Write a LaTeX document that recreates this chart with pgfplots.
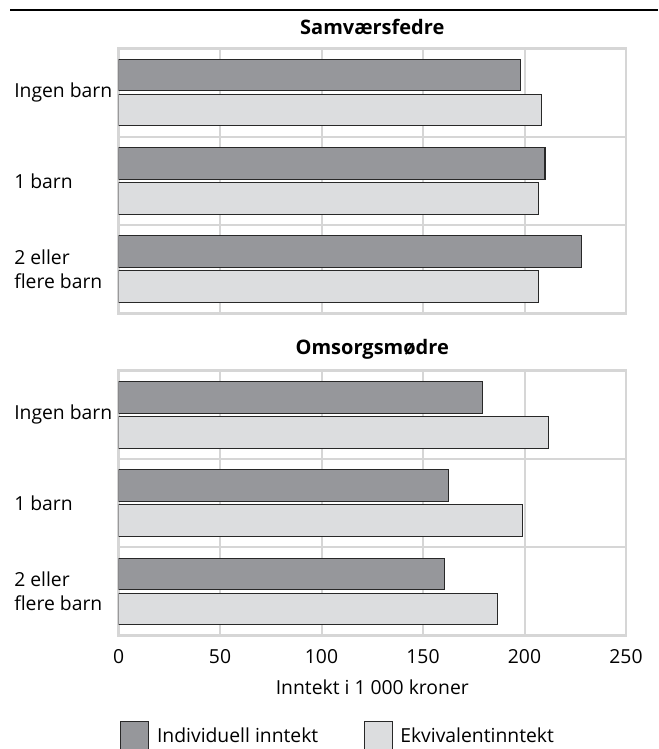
\documentclass[border=0pt]{standalone}
\usepackage{fontspec}
\setmainfont{Open Sans}
\usepackage{pgfplots}
\pgfplotsset{compat=1.18}
\definecolor{darkbar}{RGB}{150,151,155}
\definecolor{lightbar}{RGB}{220,221,223}
\definecolor{gridc}{RGB}{214,214,214}
\definecolor{edgec}{RGB}{40,40,40}
\pgfplotsset{
 panel/.style={
  scale only axis, width=380.6pt, height=198.75pt,
  xbar, bar width=23.8pt,
  xmin=0, xmax=250, ymin=-0.5, ymax=2.5,
  xtick={0,50,...,250}, ytick={0,1,2},
  yticklabels={{2 eller\\flere barn},{1 barn},{Ingen barn}},
  minor ytick={0.5,1.5},
  xmajorgrids, ymajorgrids=false, yminorgrids,
  grid style={draw=gridc, line width=1.5pt},
  minor grid style={draw=gridc, line width=1.5pt},
  axis line style={draw=gridc, line width=2pt},
  major tick length=0pt, minor tick length=0pt,
  tick style={draw=none},
  yticklabel style={anchor=west, align=left, inner sep=0pt, xshift=-78.4pt, font=\fontsize{14.5}{18}\selectfont},
  xticklabel style={anchor=center, inner sep=0pt, yshift=-15.5pt, font=\fontsize{14.5}{17}\selectfont},
  title style={at={(0.5,1)}, anchor=center, yshift=10pt, font=\bfseries\fontsize{15}{17}\selectfont},
  /pgf/number format/assume math mode=true,
 },
 darkst/.style={fill=darkbar, draw=edgec, line width=0.8pt, bar shift=13.1pt},
 lightst/.style={fill=lightbar, draw=edgec, line width=0.8pt, bar shift=-13.1pt},
}
\begin{document}
\begin{tikzpicture}
\useasboundingbox (0pt,0pt) rectangle (493.5pt,-561.75pt);
\draw[line width=1.6pt] (7.5pt,-7.5pt) -- (493.5pt,-7.5pt);
\begin{axis}[panel, at={(88.9pt,-36.2pt)}, anchor=north west,
  title={Samværsfedre}, xticklabels={}]
\addplot[darkst] coordinates {(197.9,2) (210.1,1) (228,0)};
\addplot[lightst] coordinates {(208.5,2) (206.9,1) (207.1,0)};
\end{axis}
\begin{axis}[panel, at={(88.9pt,-278pt)}, anchor=north west,
  title={Omsorgsmødre},
  xlabel={Inntekt i 1 000 kroner},
  xlabel style={at={(0.5,0)}, anchor=center, yshift=-39pt, font=\fontsize{14.5}{17}\selectfont},
  legend columns=2,
  legend style={at={(0.003,-0.322)}, anchor=north west, draw=none, fill=none, inner sep=0pt,
    font=\fontsize{14.5}{17}\selectfont,
    /tikz/every odd column/.append style={column sep=3.75pt},
    /tikz/every even column/.append style={column sep=32pt}},
  legend image code/.code={\draw[#1] (0pt,-10.5pt) rectangle (21pt,10.5pt);},
]
\addplot[darkst] coordinates {(179.4,2) (162.5,1) (160.7,0)};
\addlegendentry{Individuell inntekt}
\addplot[lightst] coordinates {(212.0,2) (198.9,1) (186.6,0)};
\addlegendentry{Ekvivalentinntekt}
\end{axis}
\end{tikzpicture}
\end{document}
